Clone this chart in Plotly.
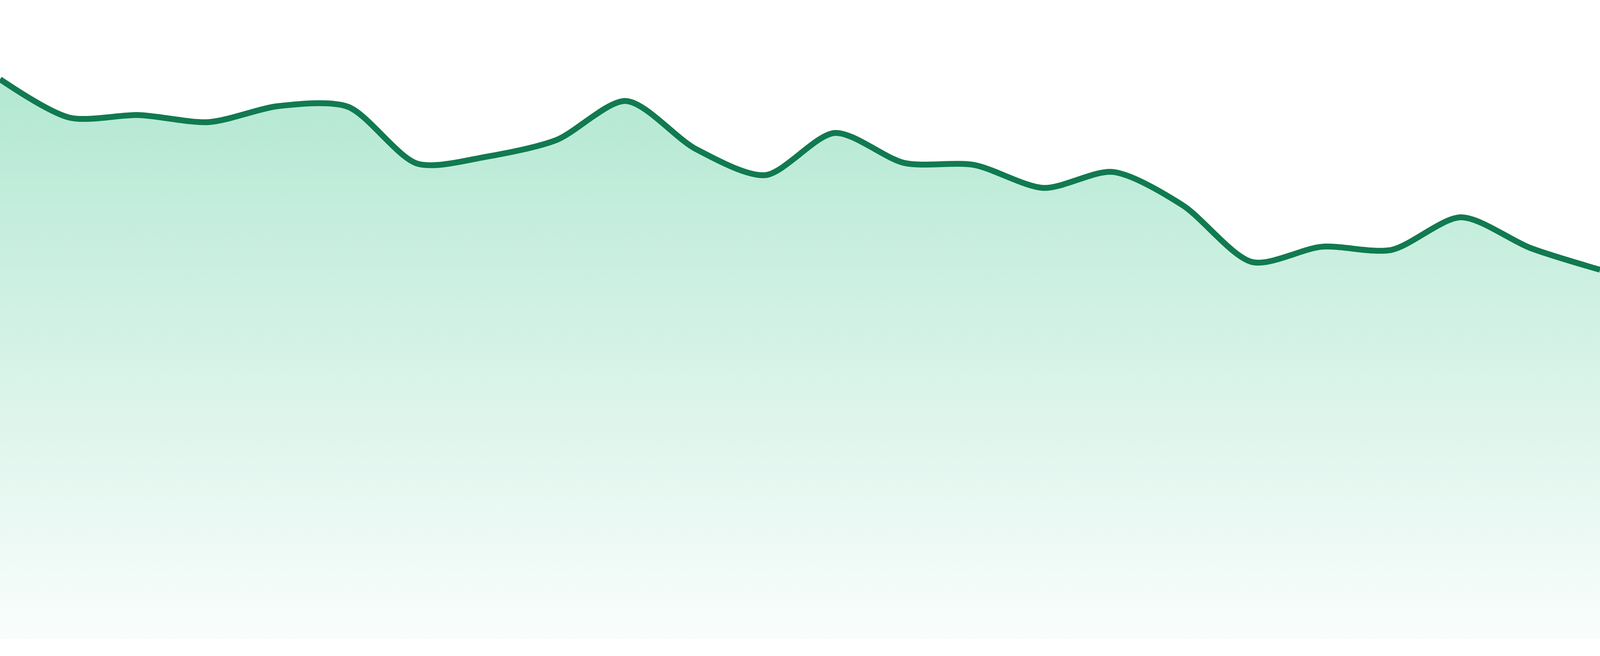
import plotly.graph_objects as go

# Data (arbitrary units; value 0 sits at the bottom of the fill)
periods = list(range(24))
values = [87.6, 81.6, 82.0, 80.9, 83.4, 83.3, 74.4, 75.5, 78.1, 84.2, 76.7, 72.6,
          79.2, 74.5, 74.2, 70.6, 73.1, 67.9, 59.0, 61.4, 60.9, 66.0, 61.2, 57.8]

line_color = "#117a50"

fig = go.Figure()
fig.add_trace(go.Scatter(
    x=periods,
    y=values,
    mode="lines",
    line=dict(color=line_color, width=15, shape="spline", smoothing=0.8),
    fill="tozeroy",
    fillgradient=dict(
        type="vertical",
        start=0,
        stop=100,
        colorscale=[[0, "rgba(40,190,130,0.03)"], [1, "rgba(40,190,130,0.40)"]],
    ),
    hoverinfo="skip",
    showlegend=False,
))

fig.update_layout(
    autosize=True,
    margin=dict(l=0, r=0, t=0, b=0, pad=0),
    paper_bgcolor="white",
    plot_bgcolor="white",
    xaxis=dict(range=[0, 23], visible=False, fixedrange=True),
    yaxis=dict(range=[-2.63, 100], visible=False, fixedrange=True),
)

fig.write_html(
    "out.html",
    config={"displayModeBar": False, "responsive": True},
    default_width="100%",
    default_height="100%",
    post_script=(
        "document.documentElement.style.height='100%';"
        "document.documentElement.style.margin='0';"
        "document.body.style.height='100%';"
        "document.body.style.margin='0';"
        "document.body.style.overflow='hidden';"
        "var gd=document.getElementById('{plot_id}');"
        "gd.parentElement.style.height='100%';"
        "Plotly.Plots.resize(gd);"
    ),
)
